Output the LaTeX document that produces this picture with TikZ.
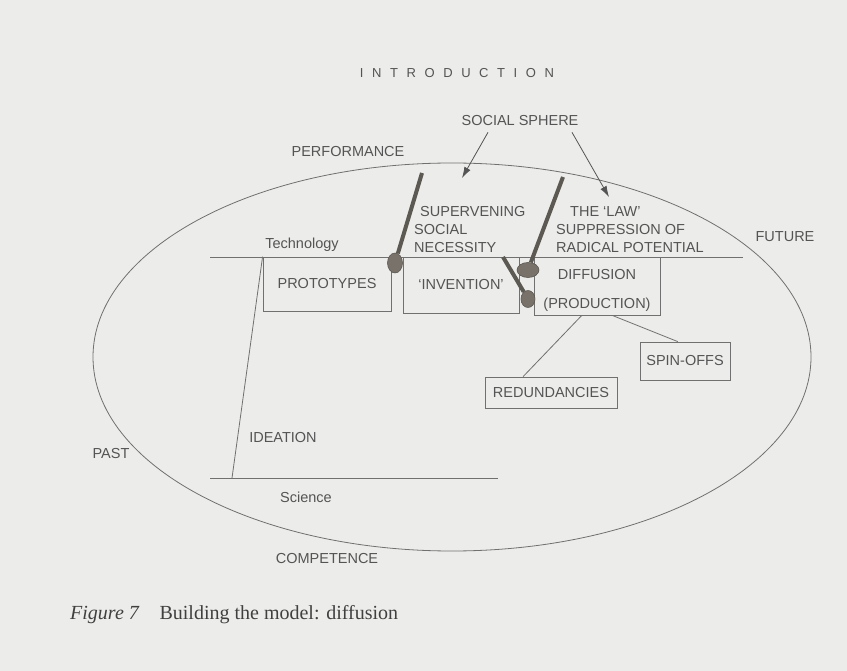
\documentclass[tikz,border=0pt]{standalone}
\usepackage{fontspec}
\setmainfont{Liberation Sans}
\newfontfamily\capfont{Liberation Serif}
\newfontfamily\headfont[LetterSpace=66]{Liberation Sans}
\usetikzlibrary{arrows.meta, shapes.geometric, calc}
\definecolor{pagegray}{RGB}{236,236,234}
\definecolor{inkgray}{RGB}{84,84,84}
\definecolor{rulegray}{RGB}{112,112,112}
\definecolor{stickgray}{RGB}{92,88,82}
\definecolor{knobgray}{RGB}{120,114,106}
\tikzset{
	txt/.style={text=inkgray, font=\fontsize{14.5}{18}\selectfont, inner sep=0pt},
	box/.style={txt, draw=rulegray, line width=0.8pt, align=center},
	tline/.style={draw=rulegray, line width=0.8pt},
	stick/.style={draw=stickgray, line width=4pt},
	knob/.style={ellipse, fill=knobgray, draw=stickgray, line width=0.6pt, inner sep=0pt},
	pointer/.style={draw=inkgray, line width=0.8pt, -{Latex[length=11pt,width=7pt]}}
}

\begin{document}
\begin{tikzpicture}[x=1pt, y=-1pt]
		\fill[pagegray] (0,0) rectangle (847,671);
		\useasboundingbox (0,0) rectangle (847,671);
		\node[txt, font=\headfont\fontsize{13}{15}\selectfont] (head) at (457,73) {INTRODUCTION};
		\draw[tline] (452,357) ellipse [x radius=359pt, y radius=194pt];
		\node[txt] (sphere) at (520,121) {SOCIAL SPHERE};
		\node[txt] (perf) at (348,152) {PERFORMANCE};
		\node[txt] (future) at (785,237) {FUTURE};
		\node[txt] (past) at (111,454) {PAST};
		\node[txt] (comp) at (327,559) {COMPETENCE};
		\node[txt] (tech) at (302,245) {Technology};
		\node[txt] (sci) at (306,497) {Science};
		\node[txt] (idea) at (283,438) {IDEATION};
		\node[txt, align=left, anchor=west] (need) at (414,230) {\hspace*{6pt}SUPERVENING\\SOCIAL\\NECESSITY};
		\node[txt, align=left, anchor=west] (law) at (556,230) {\hspace*{14pt}THE ‘LAW’\\SUPPRESSION OF\\RADICAL POTENTIAL};
		\coordinate (techL) at (210,257);
		\coordinate (techR) at (743,257);
		\coordinate (sciL) at (210,478);
		\coordinate (sciR) at (498,478);
		\coordinate (ideaB) at (232,478);
		\draw[tline] (techL) -- (techR);
		\draw[tline] (sciL) -- (sciR);
		\node[box, minimum width=128pt, minimum height=54pt] (proto) at (327,284) {PROTOTYPES};
		\node[box, minimum width=116pt, minimum height=56pt] (invent) at (461,285) {‘INVENTION’};
		\node[box, minimum width=126pt, minimum height=58pt] (diff) at (597,286) {\vphantom{X}\\[-8pt]DIFFUSION\\[11pt](PRODUCTION)};
		\node[box, minimum width=132pt, minimum height=31pt] (redun) at (551,392.5) {REDUNDANCIES};
		\node[box, minimum width=90pt, minimum height=38pt] (spin) at (685,361) {SPIN-OFFS};
		\draw[tline] (proto.north west) -- (ideaB);
		\draw[tline] ($(diff.south west)!0.38!(diff.south east)$) -- ($(redun.north west)!0.29!(redun.north east)$);
		\draw[tline] ($(diff.south west)!0.62!(diff.south east)$) -- ($(spin.north west)!0.42!(spin.north east)$);
		\coordinate (tipA) at (462,178);
		\coordinate (tipB) at (609,197);
		\draw[pointer] ([xshift=-32pt,yshift=-6pt]sphere.south) -- (tipA);
		\draw[pointer] ([xshift=52pt,yshift=-6pt]sphere.south) -- (tipB);
		\node[knob, minimum width=15pt, minimum height=20pt] (k1) at (395,263) {};
		\node[knob, minimum width=22pt, minimum height=15pt] (k2) at (528,270) {};
		\node[knob, minimum width=14pt, minimum height=17pt] (k3) at (528,299) {};
		\coordinate (s1) at (422,173);
		\coordinate (s2) at (563,177);
		\coordinate (s3) at (503,257);
		\draw[stick] (s1) -- (k1);
		\draw[stick] (s2) -- (k2);
		\draw[stick] (s3) -- (k3);
		\node[txt, anchor=west, font=\capfont\fontsize{20}{23}\selectfont, text=black!75] (cap) at (70,615) {\textit{Figure 7}\quad Building the model: diffusion};
\end{tikzpicture}
\end{document}
